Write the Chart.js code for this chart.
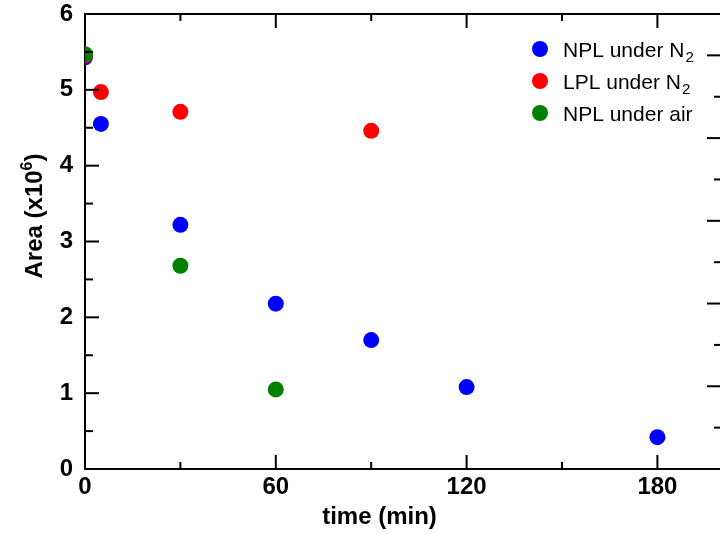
<!DOCTYPE html>
<html>
<head>
<meta charset="utf-8">
<script src="https://cdn.jsdelivr.net/npm/chart.js@4.4.1/dist/chart.umd.min.js"></script>
<style>
html, body { margin:0; padding:0; overflow:hidden; background:#fff; }
#wrap { position:relative; width:724px; height:534px; overflow:hidden; }
canvas { display:block; }
</style>
</head>
<body>
<div id="wrap"><canvas id="c" width="724" height="534"></canvas></div>
<script>
// ---- data ----
const npN2Times  = [0, 5, 30, 60, 90, 120, 180];
const npN2Area   = [5.43, 4.55, 3.22, 2.18, 1.70, 1.08, 0.42];
const lpN2Times  = [0, 5, 30, 90];
const lpN2Area   = [5.45, 4.97, 4.71, 4.46];
const npAirTimes = [0, 30, 60];
const npAirArea  = [5.47, 2.68, 1.05];
const seriesLabels = [["NPL under N", "2"], ["LPL under N", "2"], ["NPL under air", ""]];
const xMajorTicks = [0, 60, 120, 180];
const xMinorTicks = [30, 90, 150];
const yMajorTicks = [0, 1, 2, 3, 4, 5, 6];
const yMinorTicks = [0.5, 1.5, 2.5, 3.5, 4.5, 5.5];
const y2MajorTicks = [0, 1, 2, 3, 4, 5];
const y2MinorTicks = [0.5, 1.5, 2.5, 3.5, 4.5, 5.5];

const FONT = "'Liberation Sans', Arial, Helvetica, sans-serif";
const colors = ["#0000ff", "#ff0000", "#008000"];

function pts(xs, ys) { return xs.map((x, i) => ({ x: x, y: ys[i] })); }

const tickPlugin = {
  id: 'inwardTicks',
  afterDatasetsDraw(chart) {
    const ctx = chart.ctx;
    const a = chart.chartArea;
    const sx = chart.scales.x, sy = chart.scales.y, sy2 = chart.scales.y2;
    ctx.save();
    ctx.strokeStyle = '#000';
    ctx.lineWidth = 2;
    ctx.lineCap = 'butt';
    function line(x1, y1, x2, y2) { ctx.beginPath(); ctx.moveTo(x1, y1); ctx.lineTo(x2, y2); ctx.stroke(); }
    xMajorTicks.forEach(v => { const p = sx.getPixelForValue(v); line(p, a.bottom, p, a.bottom - 14); line(p, a.top, p, a.top + 14); });
    xMinorTicks.forEach(v => { const p = sx.getPixelForValue(v); line(p, a.bottom, p, a.bottom - 7); line(p, a.top, p, a.top + 7); });
    yMajorTicks.forEach(v => { const p = sy.getPixelForValue(v); line(a.left, p, a.left + 14, p); });
    yMinorTicks.forEach(v => { const p = sy.getPixelForValue(v); line(a.left, p, a.left + 8, p); });
    y2MajorTicks.forEach(v => { const p = sy2.getPixelForValue(v); line(a.right, p, a.right - 14, p); });
    y2MinorTicks.forEach(v => { const p = sy2.getPixelForValue(v); line(a.right, p, a.right - 7, p); });
    ctx.restore();
  },
  afterDraw(chart) {
    const ctx = chart.ctx;
    ctx.save();
    ctx.fillStyle = '#000';
    ctx.textBaseline = 'alphabetic';
    // x title
    ctx.font = "bold 24px " + FONT;
    ctx.textAlign = 'center';
    ctx.fillText('time (min)', 379.5, 524);
    // y title with superscript
    ctx.translate(42, 216);
    ctx.rotate(-Math.PI / 2);
    ctx.textAlign = 'left';
    const main = "bold 24px " + FONT, sup = "bold 16px " + FONT;
    ctx.font = main; const w1 = ctx.measureText('Area (x10').width; const w3 = ctx.measureText(')').width;
    ctx.font = sup; const w2 = ctx.measureText('6').width;
    let x0 = -(w1 + w2 + w3) / 2;
    ctx.font = main; ctx.fillText('Area (x10', x0, 0);
    ctx.font = sup; ctx.fillText('6', x0 + w1, -10);
    ctx.font = main; ctx.fillText(')', x0 + w1 + w2, 0);
    ctx.restore();
    // legend
    ctx.save();
    chart.data.datasets.forEach((ds, i) => {
      const cy = 49 + 32 * i;
      ctx.fillStyle = ds.backgroundColor;
      ctx.beginPath(); ctx.arc(540, cy, 8, 0, Math.PI * 2); ctx.fill();
      ctx.fillStyle = '#000';
      ctx.textAlign = 'left'; ctx.textBaseline = 'alphabetic';
      ctx.font = "21px " + FONT;
      const lab = seriesLabels[i];
      ctx.fillText(lab[0], 563, cy + 8);
      const w = ctx.measureText(lab[0]).width;
      if (lab[1]) { ctx.font = "15px " + FONT; ctx.fillText(lab[1], 563 + w + 1, cy + 13); }
    });
    ctx.restore();
  }
};

function fixTicks(arr) { return function (scale) { scale.ticks = arr.map(v => ({ value: v })); }; }
function noPad(s) { s.paddingTop = 0; s.paddingBottom = 0; s.paddingLeft = 0; s.paddingRight = 0; }

new Chart(document.getElementById('c'), {
  type: 'scatter',
  data: {
    datasets: [
      { label: 'NPL under N2', data: pts(npN2Times, npN2Area), backgroundColor: colors[0], borderColor: colors[0], pointRadius: 8, pointBorderWidth: 0, order: 3 },
      { label: 'LPL under N2', data: pts(lpN2Times, lpN2Area), backgroundColor: colors[1], borderColor: colors[1], pointRadius: 8, pointBorderWidth: 0, order: 2 },
      { label: 'NPL under air', data: pts(npAirTimes, npAirArea), backgroundColor: colors[2], borderColor: colors[2], pointRadius: 8, pointBorderWidth: 0, order: 1 }
    ]
  },
  options: {
    responsive: false,
    animation: false,
    layout: { padding: 0, autoPadding: false },
    plugins: { legend: { display: false }, tooltip: { enabled: false } },
    scales: {
      x: {
        type: 'linear', position: 'bottom', min: 0, max: 200,
        afterBuildTicks: fixTicks(xMajorTicks),
        afterFit: s => { s.height = 65; noPad(s); },
        grid: { display: false, drawTicks: false },
        border: { display: true, color: '#000', width: 2 },
        ticks: { autoSkip: false, maxRotation: 0, padding: 4, color: '#000', font: { family: FONT, size: 24, weight: 'bold' } }
      },
      x2: {
        type: 'linear', position: 'top', min: 0, max: 200,
        afterFit: s => { s.height = 14; noPad(s); },
        grid: { display: false, drawTicks: false },
        border: { display: true, color: '#000', width: 2 },
        ticks: { display: false }
      },
      y: {
        type: 'linear', position: 'left', min: 0, max: 6,
        afterBuildTicks: fixTicks(yMajorTicks),
        afterFit: s => { s.width = 85; noPad(s); },
        grid: { display: false, drawTicks: false },
        border: { display: true, color: '#000', width: 2 },
        ticks: { autoSkip: false, padding: 12, color: '#000', font: { family: FONT, size: 24, weight: 'bold' } }
      },
      y2: {
        type: 'linear', position: 'right', min: 0, max: 5.5,
        afterFit: s => { s.width = 3; noPad(s); },
        grid: { display: false, drawTicks: false },
        border: { display: true, color: '#000', width: 2 },
        ticks: { display: false }
      }
    }
  },
  plugins: [tickPlugin]
});
</script>
</body>
</html>
